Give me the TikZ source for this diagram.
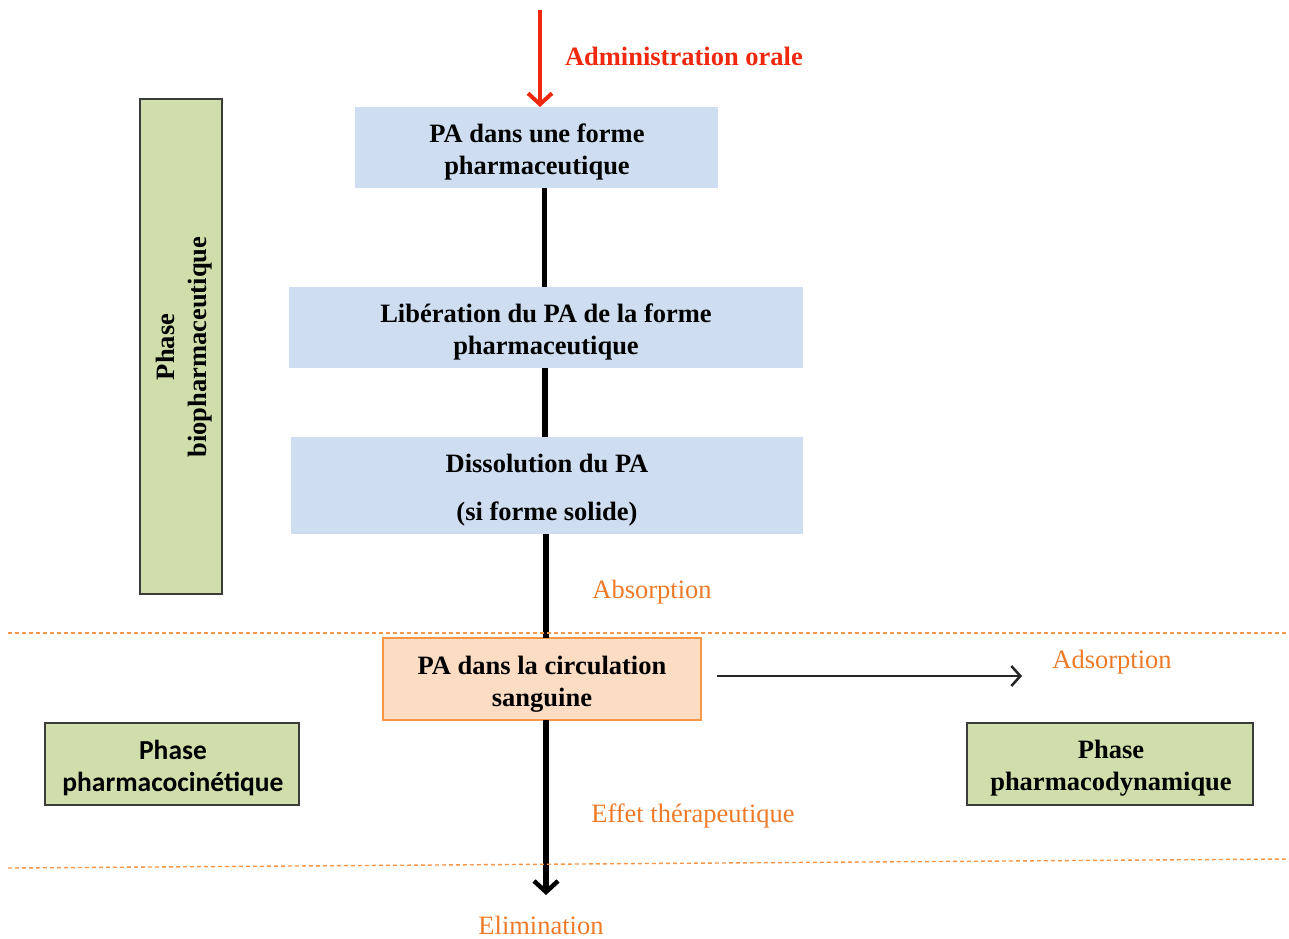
\documentclass[tikz,border=0pt]{standalone}
\usepackage{fontspec}
\setmainfont{Liberation Serif}
\newfontfamily\calfont{Carlito}
\usetikzlibrary{arrows.meta}
\definecolor{boxblue}{RGB}{206,222,240}
\definecolor{boxgreen}{RGB}{207,222,171}
\definecolor{boxorange}{RGB}{252,221,196}
\definecolor{orline}{RGB}{246,150,70}
\definecolor{ortext}{RGB}{238,122,40}
\definecolor{redarrow}{RGB}{240,40,15}
\definecolor{gborder}{RGB}{60,60,60}
\tikzset{
  x=1pt,y=-1pt,
  every node/.style={inner sep=0pt, outer sep=0pt, font=\fontsize{26.5}{32}\selectfont},
  bluebox/.style={fill=boxblue, draw=none},
  greenbox/.style={fill=boxgreen, draw=gborder, line width=1.4pt, align=center, font=\fontsize{26.5}{32}\selectfont\bfseries},
  orbox/.style={fill=boxorange, draw=orline, line width=2pt},
  boxtext/.style={align=center, font=\fontsize{26.5}{32}\selectfont\bfseries},
  orlabel/.style={text=ortext, font=\fontsize{26.5}{32}\selectfont},
  mainline/.style={line width=5.5pt, black},
  sepline/.style={orline, dash pattern=on 4pt off 3pt, line width=1.4pt},
}
\begin{document}
\begin{tikzpicture}
\useasboundingbox (0,0) rectangle (1289,938);
% boxes
\node[bluebox, minimum width=363, minimum height=81] (b1) at (536.5,147.5) {};
\node[boxtext] (t1) at (537,151.5) {PA dans une forme\\pharmaceutique};
\node[bluebox, minimum width=514, minimum height=81] (b2) at (546,327.5) {};
\node[boxtext] (t2) at (546,331.5) {Libération du PA de la forme\\pharmaceutique};
\node[bluebox, minimum width=512, minimum height=97] (b3) at (547,485.5) {};
\node[boxtext, font=\fontsize{26.5}{48}\selectfont\bfseries] (t3) at (547,490) {Dissolution du PA\\(si forme solide)};
\node[orbox, minimum width=318, minimum height=82] (b4) at (542,679) {};
\node[boxtext] (t4) at (542,684) {PA dans la circulation\\sanguine};
\node[greenbox, minimum width=82, minimum height=495] (gbio) at (181,346.5) {};
\node[rotate=90, boxtext] (tbio) at (184,347) {Phase\\biopharmaceutique};
\node[greenbox, minimum width=254, minimum height=82] (gcin) at (172,764) {};
\node[boxtext, font=\fontsize{27.5}{32}\selectfont\calfont\bfseries] (tcin) at (173,768) {Phase\\pharmacocinétique};
\node[greenbox, minimum width=286, minimum height=82] (gdyn) at (1110,764) {};
\node[boxtext] (tdyn) at (1111,768) {Phase\\pharmacodynamique};
% coordinates
\coordinate (rtop) at (540,10);
\coordinate (bend) at (546,895);
\coordinate (aStart) at (717,676);
\coordinate (aEnd) at (1022,676);
% red arrow
\draw[redarrow, line width=4pt, -{Straight Barb[length=11pt,width=24pt,line width=4pt]}] (rtop) -- (b1.north -| rtop);
\node[text=redarrow, anchor=west, font=\fontsize{26.5}{32}\selectfont\bfseries] (adm) at (565,56) {Administration orale};
% main vertical line
\draw[mainline] (b1.south -| 544.5,0) -- (b2.north -| 544.5,0);
\draw[mainline] (b2.south -| 545,0) -- (b3.north -| 545,0);
\draw[mainline] (b3.south -| 546,0) -- (b4.north -| 546,0);
\draw[mainline, -{Straight Barb[length=11pt,width=24pt,line width=4.5pt]}] (b4.south -| 546,0) -- (bend);
% horizontal arrow
\draw[line width=2pt, black!85, -{Straight Barb[length=9pt,width=20pt,line width=2.5pt]}] (aStart) -- (aEnd);
% separators
\draw[sepline] (8,633) -- (1289,633);
\draw[sepline] (8,868) -- (1289,859);
% labels
\node[orlabel] (abs) at (652,592) {Absorption};
\node[orlabel] (ads) at (1112,662) {Adsorption};
\node[orlabel] (eff) at (693,816) {Effet thérapeutique};
\node[orlabel] (eli) at (541,925) {Elimination};
\end{tikzpicture}
\end{document}
